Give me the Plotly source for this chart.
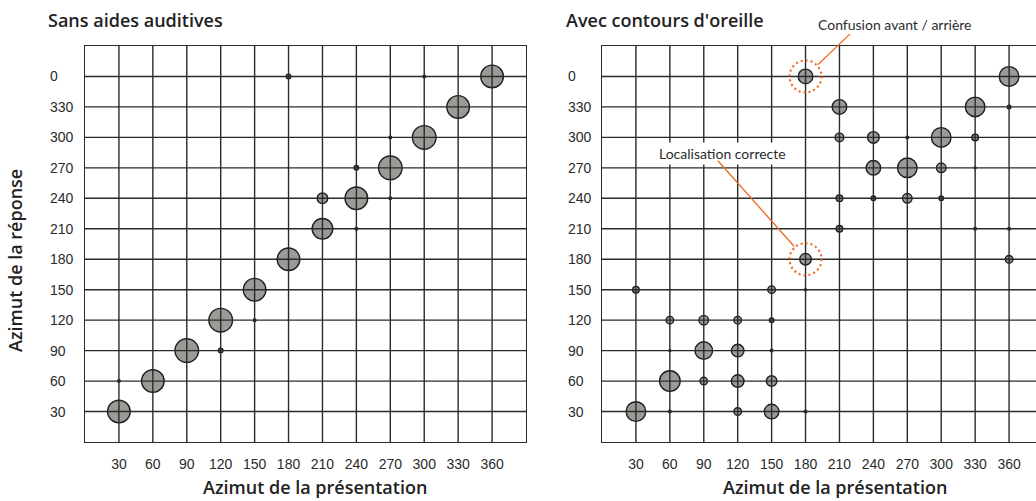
import plotly.graph_objects as go

# ---------------- data ----------------
tick_vals = [30, 60, 90, 120, 150, 180, 210, 240, 270, 300, 330, 360]
x_tick_text = ["30", "60", "90", "120", "150", "180", "210", "240", "270", "300", "330", "360"]
y_tick_text = ["30", "60", "90", "120", "150", "180", "210", "240", "270", "300", "330", "0"]

# Sans aides auditives
sans_presentation = [30, 60, 90, 120, 150, 180, 210, 240, 270, 300, 330, 360,
                     30, 120, 150, 180, 210, 240, 240, 270, 270, 300]
sans_reponse = [30, 60, 90, 120, 150, 180, 210, 240, 270, 300, 330, 0,
                60, 90, 120, 0, 240, 270, 210, 300, 240, 0]
sans_taille = [24, 24, 25, 25, 24, 24, 22, 24, 25, 25, 24, 24,
               4, 6, 4, 6, 12, 6, 4, 4, 4, 4]

# Avec contours d'oreille
avec_presentation = [180, 360, 210, 330, 360, 210, 240, 270, 300, 330, 240, 270, 300, 330,
                     210, 240, 270, 300, 210, 330, 360, 180, 360, 30, 150, 180,
                     60, 90, 120, 150, 60, 90, 120, 150, 60, 90, 120, 150,
                     30, 60, 120, 150, 180]
avec_reponse = [0, 0, 330, 330, 330, 300, 300, 300, 300, 300, 270, 270, 270, 270,
                240, 240, 240, 240, 210, 210, 210, 180, 180, 150, 150, 150,
                120, 120, 120, 120, 90, 90, 90, 90, 60, 60, 60, 60,
                30, 30, 30, 30, 30]
avec_taille = [16, 21, 16, 21, 5, 10, 13, 4, 21, 8, 16, 21, 11, 3,
               8, 6, 11, 6, 8, 4, 4, 13, 9, 8, 9, 3,
               9, 11, 9, 6, 3, 19, 14, 4, 22, 9, 14, 12,
               21, 4, 9, 16, 4]

# ---------------- style ----------------
W, H = 1036, 501
FILL = "#9b9a96"
EDGE = "#1e1e1e"
GRID = "#2a2a2a"
ORANGE = "#ee6a24"
TXT = "#2b2b2b"
BOLD = "Open Sans"
REG = "Liberation Sans"
LW = 1.4


def px_x(p):
    return p / W


def px_y(p):
    return 1 - p / H


def pos(r):
    return 360 if r == 0 else r


fig = go.Figure()

for pres, rep, taille, xa, ya in [
    (sans_presentation, sans_reponse, sans_taille, "x", "y"),
    (avec_presentation, avec_reponse, avec_taille, "x2", "y2"),
]:
    order = sorted(range(len(pres)), key=lambda i: -taille[i])
    fig.add_trace(go.Scatter(
        x=[pres[i] for i in order],
        y=[pos(rep[i]) for i in order],
        mode="markers",
        marker=dict(size=[max(taille[i] - LW, 2) for i in order], color=FILL,
                    line=dict(color=EDGE, width=LW), opacity=1),
        xaxis=xa, yaxis=ya, showlegend=False, hoverinfo="skip",
    ))

ydom = [px_y(442), px_y(46)]
common_x = dict(tickmode="array", tickvals=tick_vals, ticktext=x_tick_text,
                showgrid=False, zeroline=False, ticks="",
                tickfont=dict(family=REG, size=14, color=TXT),
                showline=True, linecolor=GRID, linewidth=LW, mirror=True,
                ticklabelstandoff=9)
common_y = dict(tickmode="array", tickvals=tick_vals, showticklabels=False,
                showgrid=False, zeroline=False, ticks="", range=[0, 390],
                showline=True, linecolor=GRID, linewidth=LW, domain=ydom)

scale = (526 - 85) / 390.0
fig.update_layout(
    width=W, height=H,
    margin=dict(l=0, r=0, t=0, b=0),
    paper_bgcolor="white", plot_bgcolor="white",
    xaxis=dict(common_x, domain=[px_x(85), px_x(526)], range=[0, 390], anchor="y"),
    yaxis=dict(common_y, anchor="x", mirror=True),
    xaxis2=dict(common_x, domain=[px_x(602), 1.0], range=[0, (W - 602) / scale], anchor="y2"),
    yaxis2=dict(common_y, anchor="x2", mirror=False),
)

shapes = []
for xa, ya in [("x", "y"), ("x2", "y2")]:
    for v in tick_vals:
        shapes.append(dict(type="line", xref=xa, yref=ya + " domain", x0=v, x1=v, y0=0, y1=1,
                           line=dict(color=GRID, width=LW), layer="above"))
        shapes.append(dict(type="line", xref=xa + " domain", yref=ya, x0=0, x1=1, y0=v, y1=v,
                           line=dict(color=GRID, width=LW), layer="above"))

# dotted highlight circles (right panel)
for (cx, cy) in [(180, 360), (180, 180)]:
    shapes.append(dict(type="circle", xref="x2", yref="y2", xsizemode="pixel", ysizemode="pixel",
                       xanchor=cx, yanchor=cy, x0=-16, x1=16, y0=-16, y1=16,
                       line=dict(color=ORANGE, width=2.2, dash="2px,3px"), layer="above"))
fig.update_layout(shapes=shapes)

ann = []
# y tick labels, left aligned
for ya, xp in [("y", 48), ("y2", 566)]:
    for v, t in zip(tick_vals, y_tick_text):
        ann.append(dict(text=t, xref="paper", x=px_x(xp), xanchor="left", yref=ya, y=v,
                        yanchor="middle", showarrow=False,
                        font=dict(family=REG, size=14, color=TXT)))

tfont = dict(family=BOLD, size=18, color="#222", weight=600)
afont = dict(family=BOLD, size=18, color="#222", weight=600)
# titles
ann.append(dict(text="Sans aides auditives", xref="paper", yref="paper", x=px_x(46), y=px_y(20),
                xanchor="left", yanchor="middle", showarrow=False, font=tfont))
ann.append(dict(text="Avec contours d'oreille", xref="paper", yref="paper", x=px_x(564), y=px_y(20),
                xanchor="left", yanchor="middle", showarrow=False, font=tfont))
for cxp in [315, 835]:
    ann.append(dict(text="Azimut de la présentation", xref="paper", yref="paper",
                    x=px_x(cxp), y=px_y(487), xanchor="center", yanchor="middle", showarrow=False,
                    font=afont))
ann.append(dict(text="Azimut de la réponse", xref="paper", yref="paper",
                x=px_x(15), y=px_y(261), xanchor="center", yanchor="middle", showarrow=False,
                textangle=-90, font=afont))

# callouts
cfont = dict(family="Lato", size=14, color=TXT)
ann.append(dict(text="Confusion avant / arrière", xref="paper", yref="paper", x=px_x(895), y=px_y(25),
                xanchor="center", yanchor="middle", showarrow=False, font=cfont))
ann.append(dict(text="Localisation correcte", xref="paper", yref="paper", x=px_x(722), y=px_y(153),
                xanchor="center", yanchor="middle", showarrow=False, bgcolor="white",
                borderpad=2, font=cfont))
ann.append(dict(text="", xref="x2", yref="y2", x=180, y=360, ax=46, ay=-44, showarrow=True,
                arrowhead=0, arrowwidth=1.3, arrowcolor=ORANGE, standoff=17))
ann.append(dict(text="", xref="x2", yref="y2", x=180, y=180, ax=-89, ay=-100, showarrow=True,
                arrowhead=0, arrowwidth=1.3, arrowcolor=ORANGE, standoff=17))
fig.update_layout(annotations=ann)

fig.write_html("out.html")
